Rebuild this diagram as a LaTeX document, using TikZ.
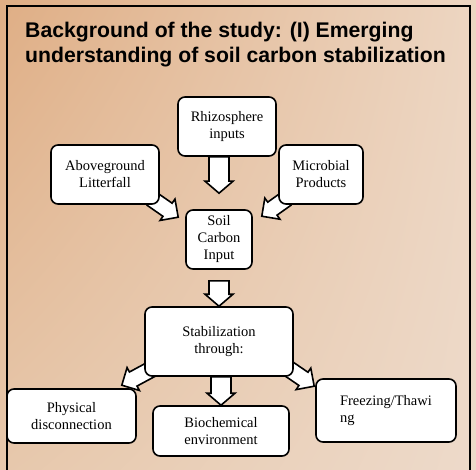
\documentclass[tikz,border=0pt]{standalone}
\usepackage{fontspec}
\setmainfont{Liberation Serif}
\setsansfont{Liberation Sans}
\usepackage{tikz}
\usetikzlibrary{calc, shadings}
\definecolor{bgtl}{RGB}{223,174,133}
\definecolor{bgtr}{RGB}{237,214,194}
\definecolor{bgbl}{RGB}{231,200,172}
\definecolor{bgbr}{RGB}{237,218,202}
\tikzstyle{box} = [rectangle, rounded corners=7pt, draw=black, line width=1.6pt, fill=white, align=center, inner sep=2pt, font=\fontsize{14.5}{17}\selectfont]
\tikzstyle{fat} = [draw=black, line width=1.6pt, fill=white, line join=miter]
\tikzstyle{heading} = [anchor=north west, align=left, inner sep=0pt, font=\sffamily\bfseries\fontsize{21.2}{24.5}\selectfont]

\pgfdeclarelayer{back}
\pgfdeclarelayer{links}
\pgfsetlayers{back,links,main}

% block arrow from #1 to #2 (tip at #2), half shaft #3, half head #4, head length #5
\newcommand{\fatarrow}[5]{%
	\draw[fat] let \p1=(#1), \p2=(#2), \n1={atan2(\y2-\y1,\x2-\x1)} in
		($(\p1)+(\n1+90:#3pt)$) -- ($(\p2)+(\n1:-#5pt)+(\n1+90:#3pt)$)
		-- ($(\p2)+(\n1:-#5pt)+(\n1+90:#4pt)$) -- (\p2)
		-- ($(\p2)+(\n1:-#5pt)+(\n1-90:#4pt)$) -- ($(\p2)+(\n1:-#5pt)+(\n1-90:#3pt)$)
		-- ($(\p1)+(\n1-90:#3pt)$) -- cycle;}

\begin{document}
\begin{tikzpicture}[x=1pt, y=-1pt]
			\useasboundingbox (0,0) rectangle (476,470);

			\begin{pgfonlayer}{back}
			\shade[upper left=bgtl, upper right=bgtr, lower left=bgbl, lower right=bgbr] (0,0) rectangle (476,470);
			\draw[line width=2pt] (6.5,472) -- (6.5,6.5) -- (470,6.5) -- (470,472);
			\end{pgfonlayer}

			\node (title) [heading] at (25,22) {Background of the study: (I) Emerging\\understanding of soil carbon stabilization};

			\node (rhizo) [box, minimum width=98, minimum height=59] at (227,126.5) {Rhizosphere\\inputs};
			\node (above) [box, minimum width=108, minimum height=59] at (105,174.5) {Aboveground\\Litterfall};
			\node (micro) [box, minimum width=84, minimum height=59] at (321,174.5) {Microbial\\Products};
			\node (soil) [box, minimum width=66, minimum height=59] at (219,239.5) {Soil\\Carbon\\Input};
			\node (stab) [box, minimum width=148, minimum height=69] at (219,341.5) {Stabilization\\through:};
			\node (phys) [box, minimum width=129, minimum height=54] at (71.5,416) {Physical\\disconnection};
			\node (bio) [box, minimum width=136, minimum height=50] at (221,431) {Biochemical\\environment};
			\node (freeze) [box, align=left, minimum width=140, minimum height=63] at (386,410.5) {Freezing/Thawi\\ng};

			\begin{pgfonlayer}{links}
			\fatarrow{rhizo.south -| soil.north}{$(soil.north)+(0,-16)$}{10}{14}{12}
			\fatarrow{$(above.south east)+(-8,-6)$}{$(soil.north west)+(-7,8)$}{8}{13}{13}
			\fatarrow{$(micro.south west)+(8,-6)$}{$(soil.north east)+(9,7)$}{8}{13}{13}
			\fatarrow{$(soil.south)+(0,11)$}{stab.north}{10}{14}{12}
			\fatarrow{$(stab.south west)+(8,-8)$}{$(phys.north east)+(-15,-3)$}{8}{13}{13}
			\fatarrow{stab.south -| bio.north}{bio.north}{10}{14}{12}
			\fatarrow{$(stab.south east)+(-8,-10)$}{$(freeze.north west)+(-1,8)$}{8}{13}{13}
			\end{pgfonlayer}

\end{tikzpicture}
\end{document}
